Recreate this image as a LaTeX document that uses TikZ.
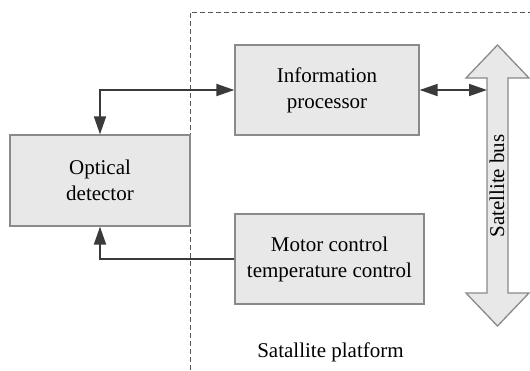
\documentclass[tikz,border=0pt]{standalone}
\usepackage{fontspec}
\setmainfont{Liberation Serif}
\usetikzlibrary{arrows.meta}
\definecolor{boxfill}{HTML}{E8E8E8}
\definecolor{boxline}{HTML}{8A8A8A}
\definecolor{arrcol}{HTML}{3A3A3A}
\definecolor{dashcol}{HTML}{555555}
\tikzset{
  box/.style={draw=boxline, fill=boxfill, line width=1.3pt, inner sep=0pt, align=center,
              font=\fontsize{21}{26}\selectfont},
  conn/.style={draw=arrcol, line width=1.8pt, arrows={-}, 
               >={Triangle[length=18pt,width=12pt]}},
  platform/.style={draw=dashcol, line width=0.8pt, dash pattern=on 5pt off 3pt},
  busarrow/.style={draw=boxline, fill=boxfill, line width=1.3pt, line join=miter},
  label/.style={font=\fontsize{21}{26}\selectfont, inner sep=0pt}
}
\begin{document}
\begin{tikzpicture}[x=1pt,y=-1pt]
\useasboundingbox (0,0) rectangle (530,370);
% platform boundary
\draw[platform] (190,370) -- (190,12) -- (530,12);
% boxes
\node[box, minimum width=180pt, minimum height=91pt] (opt) at (100,180.5) {Optical\\detector};
\node[box, minimum width=184pt, minimum height=90pt] (info) at (327,90) {Information\\processor};
\node[box, minimum width=189pt, minimum height=90pt] (motor) at (329.5,259) {Motor control\\temperature control};
% satellite bus
\draw[busarrow] (497.5,45) -- (529,78) -- (508,78) -- (508,293) -- (529,293) -- (497.5,326)
  -- (466,293) -- (487,293) -- (487,78) -- (466,78) -- cycle;
\coordinate (busL) at (487,90);
\node[label, rotate=90] (buslabel) at (497,186) {Satellite bus};
% connectors
\draw[conn, <->] (opt.north) |- (info.west);
\draw[conn, ->] (motor.west) -| (opt.south);
\draw[conn, <->] (info.east) -- (busL);
% platform label
\node[label] (plat) at (330.5,352) {Satallite platform};
\end{tikzpicture}
\end{document}
